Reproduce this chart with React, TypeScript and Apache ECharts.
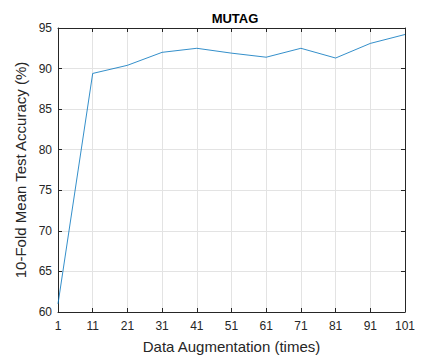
import React, { useEffect, useRef } from "react";
import * as echarts from "echarts";

const categories = ["1", "11", "21", "31", "41", "51", "61", "71", "81", "91", "101"];
const accuracy = [61.0, 89.4, 90.4, 92.0, 92.5, 91.9, 91.4, 92.5, 91.3, 93.1, 94.2];
const yTicks = { min: 60, max: 95, interval: 5 };

const FONT = "'Liberation Sans', Arial, Helvetica, sans-serif";
const AX = "#262626";
const GRID = "#e3e3e3";

export default function App() {
  const ref = useRef<HTMLDivElement>(null);
  useEffect(() => {
    if (!ref.current) return;
    const chart = echarts.init(ref.current, null, { renderer: "svg" });
    const axisCommon = {
      axisLine: { show: true, lineStyle: { color: AX, width: 1 } },
      axisTick: { show: true, inside: true, length: 4, lineStyle: { color: AX } },
    };
    chart.setOption({
      animation: false,
      backgroundColor: "#ffffff",
      title: {
        text: "MUTAG",
        left: 230,
        top: 7,
        textAlign: "center",
        textStyle: { fontFamily: FONT, fontSize: 13, fontWeight: "bold", color: "#000" },
      },
      grid: { left: 58, right: 42, top: 28, bottom: 44, containLabel: false },
      xAxis: [
        {
          type: "category",
          data: categories,
          boundaryGap: false,
          ...axisCommon,
          axisLabel: { color: AX, fontFamily: FONT, fontSize: 12, margin: 8 },
          splitLine: { show: true, lineStyle: { color: GRID, width: 1 } },
          name: "Data Augmentation (times)",
          nameLocation: "middle",
          nameGap: 27,
          nameTextStyle: { color: AX, fontFamily: FONT, fontSize: 15 },
        },
        {
          type: "category",
          data: categories,
          boundaryGap: false,
          position: "top",
          ...axisCommon,
          axisLabel: { show: false },
          splitLine: { show: false },
        },
      ],
      yAxis: [
        {
          type: "value",
          min: yTicks.min,
          max: yTicks.max,
          interval: yTicks.interval,
          ...axisCommon,
          axisLabel: { color: AX, fontFamily: FONT, fontSize: 12, margin: 6 },
          splitLine: { show: true, lineStyle: { color: GRID, width: 1 } },
          name: "10-Fold Mean Test Accuracy (%)",
          nameLocation: "middle",
          nameGap: 29,
          nameTextStyle: { color: AX, fontFamily: FONT, fontSize: 15 },
        },
        {
          type: "value",
          min: yTicks.min,
          max: yTicks.max,
          interval: yTicks.interval,
          position: "right",
          ...axisCommon,
          axisLabel: { show: false },
          splitLine: { show: false },
        },
      ],
      series: [
        {
          type: "line",
          data: accuracy,
          showSymbol: false,
          lineStyle: { color: "#0072BD", width: 0.8 },
          itemStyle: { color: "#0072BD" },
        },
      ],
    });
    return () => chart.dispose();
  }, []);
  return (
    <div
      ref={ref}
      style={{ position: "fixed", left: 0, top: 0, width: 447, height: 359, background: "#fff" }}
    />
  );
}
